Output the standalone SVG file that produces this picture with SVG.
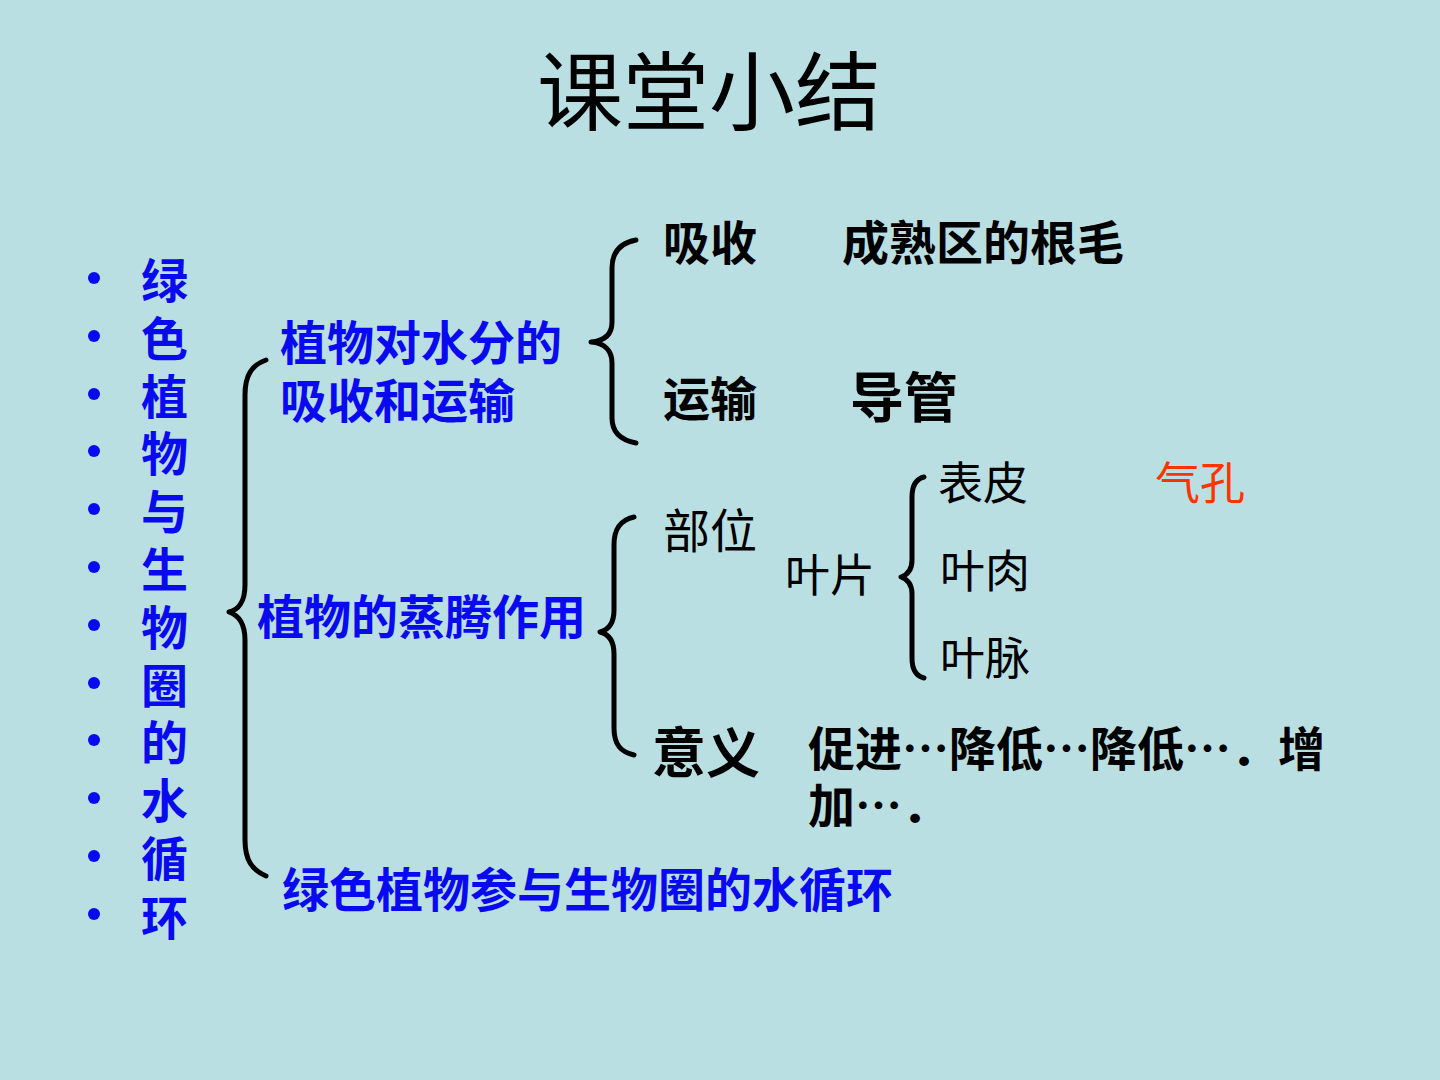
<svg xmlns="http://www.w3.org/2000/svg" width="1440" height="1080" viewBox="0 0 1440 1080">
<style>
.t{font-family:"Noto Sans CJK SC","Liberation Sans",sans-serif;}
.blue{fill:#0A0AF0;font-weight:bold;font-size:47px;}
.blk{fill:#000;font-weight:bold;font-size:47px;}
.lt{fill:#000;font-weight:normal;font-size:45px;}
.brace{fill:none;stroke:#000;stroke-width:5;stroke-linecap:round;stroke-linejoin:round;}
</style>
<rect width="1440" height="1080" fill="#BADFE3"/>
<g id="title"><text class="t" x="709" y="124" text-anchor="middle" style="font-size:86px" fill="#000">课堂小结</text></g>
<g id="left-column">
<g fill="#0A0AF0">
<circle cx="94" cy="278" r="6"/><circle cx="94" cy="336" r="6"/><circle cx="94" cy="394" r="6"/><circle cx="94" cy="451" r="6"/><circle cx="94" cy="509" r="6"/><circle cx="94" cy="567" r="6"/><circle cx="94" cy="625" r="6"/><circle cx="94" cy="683" r="6"/><circle cx="94" cy="740" r="6"/><circle cx="94" cy="798" r="6"/><circle cx="94" cy="856" r="6"/><circle cx="94" cy="914" r="6"/>
</g>
<text class="t blue"><tspan x="141" y="298">绿</tspan><tspan x="141" y="356">色</tspan><tspan x="141" y="414">植</tspan><tspan x="141" y="471">物</tspan><tspan x="141" y="529">与</tspan><tspan x="141" y="587">生</tspan><tspan x="141" y="645">物</tspan><tspan x="141" y="703">圈</tspan><tspan x="141" y="760">的</tspan><tspan x="141" y="818">水</tspan><tspan x="141" y="876">循</tspan><tspan x="141" y="935">环</tspan></text>
</g>
<g id="connectors">
<path class="brace" d="M266,360 C252,365 245,375 245,395 L245,585 C245,602 238,610 229,612 C238,615 245,622 245,640 L245,840 C245,860 252,870 266,876"/>
<path class="brace" d="M636,240 C620,243 612,252 612,268 L612,322 C612,335 604,341 591,342 C604,343 612,350 612,363 L612,418 C612,432 620,440 636,443"/>
<path class="brace" d="M634,517 C621,520 614,528 614,545 L614,610 C614,624 608,630 600,632 C608,634 614,640 614,654 L614,728 C614,745 621,752 634,755"/>
<path class="brace" d="M924,477 C916,479 912,485 912,497 L912,560 C912,570 907,575 901,577 C907,579 912,584 912,594 L912,658 C912,670 916,676 924,678"/>
</g>
<g id="node-absorb-transport"><text class="t blue"><tspan x="280" y="360">植物对水分的</tspan><tspan x="280" y="418">吸收和运输</tspan></text></g>
<g id="node-transpiration"><text class="t blue" x="257" y="634">植物的蒸腾作用</text></g>
<g id="node-cycle"><text class="t blue" x="282" y="907">绿色植物参与生物圈的水循环</text></g>
<g id="node-absorb"><text class="t blk" x="663" y="260">吸收</text><text class="t blk" x="842" y="260">成熟区的根毛</text></g>
<g id="node-transport"><text class="t blk" x="663" y="416">运输</text><text class="t blk" x="850" y="418" style="font-size:54px">导管</text></g>
<g id="node-site"><text class="t lt" x="663" y="548" style="font-size:47px">部位</text></g>
<g id="node-leaf"><text class="t lt" x="785" y="592">叶片</text></g>
<g id="node-epidermis"><text class="t lt" x="938" y="500">表皮</text><text class="t" x="1155" y="500" style="font-size:45px" fill="#FF3300">气孔</text></g>
<g id="node-mesophyll"><text class="t lt" x="940" y="588">叶肉</text></g>
<g id="node-vein"><text class="t lt" x="940" y="675">叶脉</text></g>
<g id="node-meaning"><text class="t blk" x="652" y="773" style="font-size:54px">意义</text><text class="t blk"><tspan x="808" y="766">促进…降低…降低…．增</tspan><tspan x="808" y="823">加…．</tspan></text></g>
</svg>
